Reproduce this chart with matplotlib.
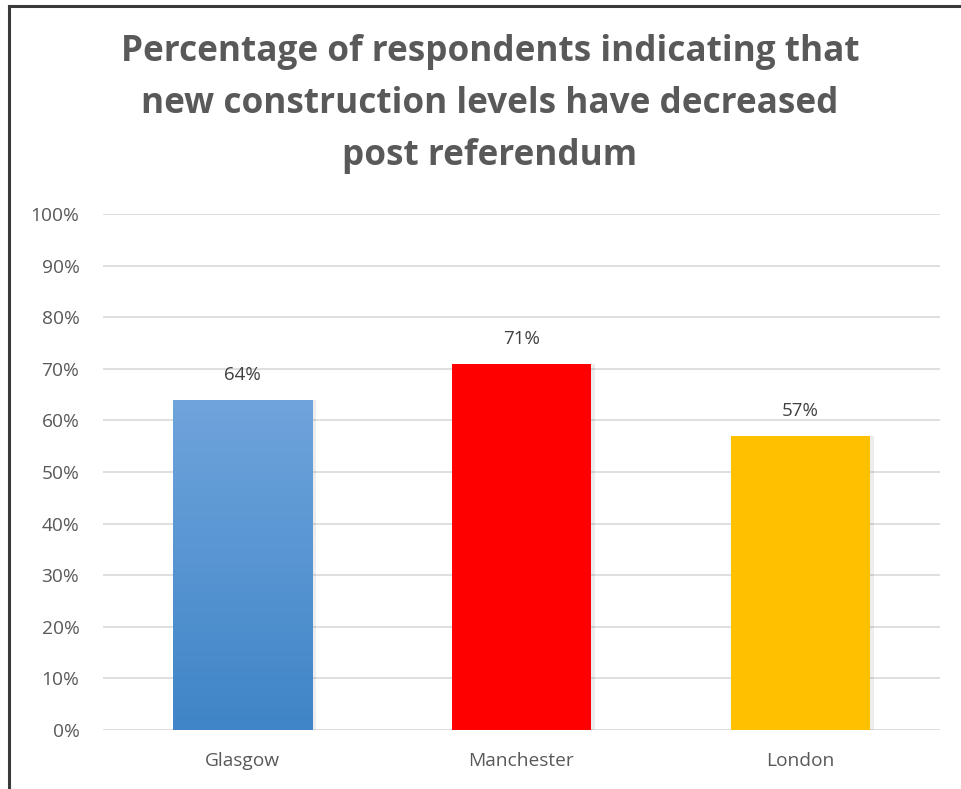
import numpy as np
import matplotlib
matplotlib.use('Agg')
from matplotlib import pyplot as plt
from matplotlib.lines import Line2D
from matplotlib.ticker import FuncFormatter

plt.rcParams['font.family'] = ['Open Sans', 'DejaVu Sans']

cities = ['Glasgow', 'Manchester', 'London']
values = [64, 71, 57]
colors = ['#5B9BD5', '#FF0000', '#FFC000']
title = 'Percentage of respondents indicating that\nnew construction levels have decreased\npost referendum'

W, H = 962, 789
fig = plt.figure(figsize=(W / 100, H / 100), dpi=100)
ax = fig.add_axes([103 / W, 1 - 730 / H, (940 - 103) / W, (730 - 214) / H])

x = np.arange(len(cities))
bars = ax.bar(x, values, width=0.5, color=colors, zorder=3)

# soft shadow on right side of bars
for b in bars:
    ax.bar(b.get_x() + b.get_width(), b.get_height(), width=0.014,
           color='#000000', alpha=0.07, zorder=2, align='edge')

# gradient on first bar
b0 = bars[0]
grad = np.linspace(0, 1, 256).reshape(-1, 1)
cmap = matplotlib.colors.LinearSegmentedColormap.from_list('g', ['#3F85C7', '#6FA4DC'])
im = ax.imshow(grad, cmap=cmap, aspect='auto', origin='lower',
               extent=[b0.get_x(), b0.get_x() + b0.get_width(), 0, b0.get_height()],
               zorder=4)
im.set_clip_path(b0)

for xi, v in zip(x, values):
    ax.text(xi, v + 4.8, f'{v}%', ha='center', va='center', fontsize=13.5, color='#404040')

ax.set_xlim(-0.5, 2.5)
ax.set_ylim(0, 100)
ax.set_yticks(range(0, 101, 10))
ax.yaxis.set_major_formatter(FuncFormatter(lambda v, p: f'{int(v)}%'))
ax.set_xticks(x)
ax.set_xticklabels(cities)
ax.tick_params(axis='both', length=0, labelsize=13.8, colors='#595959')
ax.tick_params(axis='y', pad=17)
ax.tick_params(axis='x', pad=16)
ax.grid(axis='y', color='#D9D9D9', linewidth=1.2, zorder=0)
for s in ax.spines.values():
    s.set_visible(False)

fig.text(490 / W, 1 - 104 / H, title, ha='center', va='center', fontsize=25.3,
         fontweight='bold', color='#595959', linespacing=1.6)

# outer frame (left and top edges)
fig.add_artist(Line2D([9 / W, 9 / W], [0, 1 - 6 / H], color='#3A3A3A', lw=2.2))
fig.add_artist(Line2D([9 / W, 1], [1 - 6 / H, 1 - 6 / H], color='#3A3A3A', lw=2.2))

fig.savefig('out.png', dpi=100)
